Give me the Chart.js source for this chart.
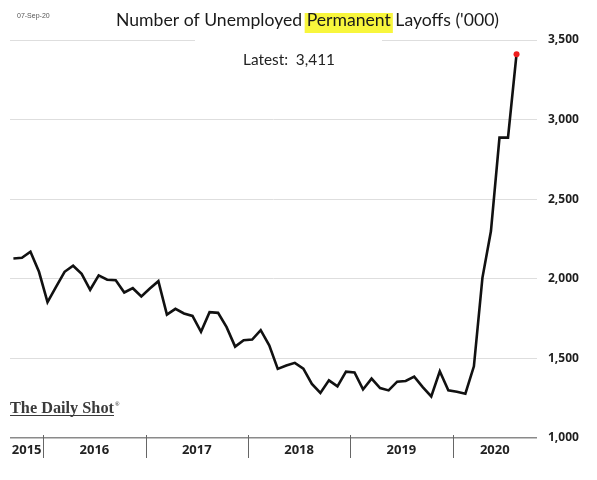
<!DOCTYPE html>
<html>
<head>
<meta charset="utf-8">
<script src="https://cdn.jsdelivr.net/npm/chart.js@4/dist/chart.umd.min.js"></script>
<style>
html,body{margin:0;padding:0;background:#fff;}
#wrap{position:relative;width:597px;height:480px;}
</style>
</head>
<body>
<div id="wrap"><canvas id="c"></canvas></div>
<script>
// ---- data ----
const startLabel = 'Sep 2015';
const years = ['2015', '2016', '2017', '2018', '2019', '2020'];
const firstJanIndex = 4; // Jan 2016 is the 5th monthly observation
const values = [2128, 2132, 2170, 2044, 1853, 1950, 2044, 2082, 2031, 1931,
                2021, 1994, 1991, 1914, 1941, 1889, 1939, 1985, 1775, 1811,
                1782, 1767, 1667, 1790, 1786, 1696, 1574, 1614, 1618, 1677,
                1582, 1434, 1455, 1472, 1436, 1340, 1283, 1362, 1324, 1417,
                1412, 1305, 1373, 1314, 1299, 1354, 1358, 1385, 1320, 1261,
                1419, 1299, 1290, 1278, 1450, 2006, 2300, 2887, 2887, 3411];
const yTicks = [1000, 1500, 2000, 2500, 3000, 3500];
const titleText = "Number of Unemployed Permanent Layoffs ('000)";
const highlightWord = 'Permanent';
const dateText = '07-Sep-20';
const latestText = 'Latest:  3,411';
const logoText = 'The Daily Shot';

const points = values.map((v, i) => ({x: i, y: v}));
const lastIdx = values.length - 1;

function fitFont(ctx, text, weight, family, targetW) {
  ctx.font = weight + ' 20px ' + family;
  const w = ctx.measureText(text).width;
  const size = 20 * targetW / w;
  return weight + ' ' + size.toFixed(2) + 'px ' + family;
}

const decor = {
  id: 'decor',
  beforeDatasetsDraw(chart) {
    const ctx = chart.ctx;
    ctx.save();
    ctx.fillStyle = '#fff';
    ctx.fillRect(195, 34, 187, 12);
    ctx.restore();
  },
  afterDraw(chart) {
    const ctx = chart.ctx;
    const xs = chart.scales.x;
    const area = chart.chartArea;
    ctx.save();
    // date
    ctx.fillStyle = '#555';
    ctx.font = '7px "Liberation Sans Narrow", "Liberation Sans", sans-serif';
    ctx.textBaseline = 'middle';
    ctx.textAlign = 'left';
    ctx.fillText(dateText, 17, 16);

    // title with highlighted word
    const tfont = fitFont(ctx, titleText, 'normal', 'Lato', 383);
    ctx.font = tfont;
    ctx.textBaseline = 'alphabetic';
    const tx = 116, ty = 26;
    const pre = titleText.slice(0, titleText.indexOf(highlightWord));
    const hx = tx + ctx.measureText(pre).width;
    const hw = ctx.measureText(highlightWord).width;
    ctx.fillStyle = '#f8f63c';
    ctx.fillRect(hx - 2, 13, hw + 4, 20);
    ctx.fillStyle = '#1a1a1a';
    ctx.fillText(titleText, tx, ty);

    // latest
    ctx.font = fitFont(ctx, latestText, 'normal', 'Lato', 92);
    ctx.fillStyle = '#222';
    ctx.fillText(latestText, 243, 65);

    // logo
    ctx.font = fitFont(ctx, logoText, 'bold', '"Liberation Serif", serif', 104);
    ctx.fillStyle = '#3a3a3a';
    ctx.fillText(logoText, 10, 413);
    ctx.font = 'bold 6px "Liberation Serif", serif';
    ctx.fillText('®', 115, 406);
    ctx.strokeStyle = '#3a3a3a';
    ctx.lineWidth = 1.2;
    ctx.beginPath();
    ctx.moveTo(10, 415.5);
    ctx.lineTo(114, 415.5);
    ctx.stroke();

    // year separators and labels
    const sepTop = area.bottom - 3, sepBot = area.bottom + 20;
    const bounds = [area.left];
    for (let k = 1; k < years.length; k++) {
      bounds.push(xs.getPixelForValue(firstJanIndex + 12 * (k - 1) - 0.5));
    }
    bounds.push(area.right);
    ctx.strokeStyle = '#666';
    ctx.lineWidth = 1;
    for (let k = 1; k < years.length; k++) {
      const x = Math.round(bounds[k]) + 0.5;
      ctx.beginPath();
      ctx.moveTo(x, sepTop);
      ctx.lineTo(x, sepBot);
      ctx.stroke();
    }
    ctx.fillStyle = '#222';
    ctx.font = 'bold 13px "Open Sans", sans-serif';
    ctx.textAlign = 'center';
    ctx.textBaseline = 'middle';
    for (let k = 0; k < years.length; k++) {
      ctx.fillText(years[k], (bounds[k] + bounds[k + 1]) / 2, area.bottom + 12);
    }
    ctx.restore();
  }
};

new Chart(document.getElementById('c'), {
  type: 'line',
  data: {
    datasets: [{
      label: 'Unemployed permanent layoffs',
      data: points,
      borderColor: '#111',
      borderWidth: 2.6,
      tension: 0,
      pointRadius: values.map((v, i) => i === lastIdx ? 3 : 0),
      pointBackgroundColor: '#ee1c1c',
      pointBorderWidth: 0,
      borderJoinStyle: 'miter'
    }]
  },
  options: {
    responsive: true,
    maintainAspectRatio: false,
    animation: false,
    events: [],
    layout: {padding: {left: 10, right: 0, top: 40, bottom: 42}},
    plugins: {legend: {display: false}, tooltip: {enabled: false}},
    scales: {
      x: {
        type: 'linear',
        display: false,
        min: -0.4,
        max: 61.4
      },
      y: {
        position: 'right',
        min: 1000,
        max: 3500,
        afterBuildTicks(scale) { scale.ticks = yTicks.map(v => ({value: v})); },
        afterFit(scale) { scale.width = 60; },
        border: {display: false},
        grid: {
          drawTicks: false,
          color: ctx => ctx.tick && ctx.tick.value === 1000 ? '#8a8a8a' : '#dedede',
          lineWidth: ctx => ctx.tick && ctx.tick.value === 1000 ? 1.5 : 1
        },
        ticks: {
          padding: 11,
          color: '#1e1e1e',
          font: {family: '"Open Sans", sans-serif', weight: 'bold', size: 12},
          callback: v => v.toLocaleString('en-US')
        }
      }
    }
  },
  plugins: [decor]
});
</script>
</body>
</html>
